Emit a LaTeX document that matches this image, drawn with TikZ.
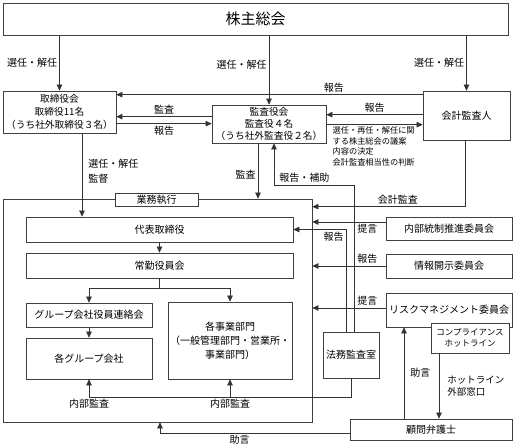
\documentclass[tikz,border=0pt]{standalone}
\usepackage{fontspec}
\setmainfont{Noto Sans CJK JP}
\usetikzlibrary{positioning, arrows.meta, calc}

\tikzset{
  box/.style={draw=black!75, line width=.7pt, align=center, inner sep=1pt,
    font=\fontsize{10}{13}\selectfont},
  lbl/.style={font=\fontsize{10}{15}\selectfont, inner sep=2pt},
  small/.style={font=\fontsize{8.2}{10.4}\selectfont, align=left, inner sep=2pt},
  arr/.style={draw=black!80, line width=.6pt, -{Triangle[length=6pt,width=5.5pt]}},
  line/.style={draw=black!80, line width=.6pt},
}

\begin{document}
\begin{tikzpicture}[x=1pt, y=-1pt]
    \useasboundingbox (0,0) rectangle (514,446);
      \node[
      box,
      minimum width=505,
      minimum height=32,
      font=\fontsize{15}{18}\selectfont
      ] (soukai) at (255.5,19) {株主総会};
      \node[
      box,
      minimum width=113,
      minimum height=42,
      font=\fontsize{9.7}{13}\selectfont
      ] (torishimari) at (59.5,112) {取締役会\\取締役11名\\（うち社外取締役３名）};
      \node[
      box,
      minimum width=114,
      minimum height=38,
      font=\fontsize{9.7}{12}\selectfont
      ] (kansayaku) at (269,124) {監査役会\\監査役４名\\（うち社外監査役２名）};
      \node[
      box,
      minimum width=87,
      minimum height=49
      ] (kaikei) at (466.5,115.5) {会計監査人};

      \node[box, minimum width=309, minimum height=223] (exec) at (157.5,310.5) {};
      \node[
      box,
      fill=white,
      inner sep=0pt,
      minimum width=83,
      minimum height=13
      ] (gyomu) at (156.5,199.5) {業務執行};
      \node[box, minimum width=267, minimum height=25] (daihyo) at (159.5,229.5) {代表取締役};
      \node[box, minimum width=267, minimum height=25] (jokin) at (159.5,265.5) {常勤役員会};
      \node[box, minimum width=126, minimum height=24] (renraku) at (89,315) {グループ会社役員連絡会};
      \node[box, minimum width=126, minimum height=41] (gkaisha) at (89,358.5) {各グループ会社};
      \node[
      box,
      minimum width=124,
      minimum height=77,
      font=\fontsize{10}{14}\selectfont
      ] (jigyo) at (230,340.5) {各事業部門\\（一般管理部門・営業所・\\事業部門）};
      \node[box, minimum width=56, minimum height=46] (homu) at (351,355) {法務監査室};

      \node[box, minimum width=126, minimum height=23] (naibu) at (449,228.5) {内部統制推進委員会};
      \node[box, minimum width=126, minimum height=24] (joho) at (449,266) {情報開示委員会};
      \node[box, minimum width=126, minimum height=34] (risk) at (449,310) {リスクマネジメント委員会};
      \node[
      box,
      fill=white,
      minimum width=78,
      minimum height=30,
      font=\fontsize{8.5}{11}\selectfont
      ] (hotline) at (470,338) {コンプライアンス\\ホットライン};
      \node[box, minimum width=162, minimum height=21] (komon) at (431,429.5) {顧問弁護士};

      \draw[arr] (soukai.south -| torishimari.north) -- node[lbl, left, pos=.5] {選任・解任} (torishimari.north);
      \draw[arr] (soukai.south -| kansayaku.north) -- node[lbl, left, pos=.43] {選任・解任} (kansayaku.north);
      \draw[arr] (soukai.south -| kaikei.north) -- node[lbl, left, pos=.5] {選任・解任} (kaikei.north);

      \draw[arr] ([yshift=-4pt]kaikei.north west) coordinate (r1)
        -- node[lbl, above, pos=.29] {報告} (r1 -| torishimari.east);
      \draw[arr] ([yshift=-12pt]kansayaku.north west) coordinate (r2)
        -- node[lbl, above] {監査} (r2 -| torishimari.east);
      \draw[arr] ([yshift=-33pt]torishimari.north east) coordinate (r3)
        -- node[lbl, below] {報告} (r3 -| kansayaku.west);
      \draw[arr] ([yshift=-24pt]kaikei.north west) coordinate (r4)
        -- node[lbl, above] {報告} (r4 -| kansayaku.east);
      \coordinate (r5) at ([yshift=-34pt]kaikei.north west);
      \draw[arr] (r5 -| kansayaku.east)
        node[small, anchor=north west, xshift=4pt] {選任・再任・解任に関\\する株主総会の議案\\内容の決定\\会計監査相当性の判断}
        -- (r5);

      \draw[arr] ([xshift=22.5pt]torishimari.south) coordinate (d1)
        -- node[lbl, right, align=left, pos=.45, xshift=4pt] {選任・解任\\監督} (d1 |- daihyo.north);
      \draw[arr] ([xshift=-11pt]kansayaku.south) coordinate (d2)
        -- node[lbl, left, pos=.57] {監査} (d2 |- exec.north);

      \coordinate (hojo) at (274,185);
      \draw[arr] ([xshift=3pt]homu.north) |- (hojo) node[lbl, above right, xshift=3pt] {報告・補助}
        -- (hojo |- kansayaku.south);
      \draw[arr] ([xshift=-5pt]homu.north) |- node[lbl, below left, pos=.5] {報告} (daihyo.east);
      \draw[arr] ([xshift=-1.5pt]kaikei.south) |- node[lbl, above, pos=.72] {会計監査} ([yshift=-8pt]exec.north east);

      \draw[arr] ([yshift=6.5pt]naibu.west) coordinate (c1) -- node[lbl, below, pos=.25] {提言} (c1 -| exec.east);
      \draw[arr] (joho.west) -- node[lbl, above, pos=.25] {報告} (joho.west -| exec.east);
      \draw[arr] ([yshift=2pt]risk.west) coordinate (c3) -- node[lbl, above, pos=.25] {提言} (c3 -| exec.east);

      \coordinate (audit) at (0,397);
      \draw[arr] (homu.south) |- (gkaisha.south |- audit) node[lbl, below] {内部監査} -- (gkaisha.south);
      \draw[arr] (jigyo.south |- audit) node[lbl, below] {内部監査} -- (jigyo.south);

      \draw[arr] ([yshift=-3.5pt]komon.west) -| node[lbl, below, pos=.29] {助言} ([xshift=2.5pt]exec.south);
      \draw[arr] ([xshift=-27pt]komon.north) coordinate (a1)
        -- node[lbl, right, xshift=4pt] {助言} (a1 |- risk.south);
      \draw[arr] ([xshift=-31pt]hotline.south) coordinate (a2)
        -- node[lbl, right, align=left, xshift=6pt, font=\fontsize{9.5}{12}\selectfont] {ホットライン\\外部窓口} (a2 |- komon.north);

      \draw[arr] (daihyo) -- (jokin);
      \draw[line] (jokin.south) -- ([yshift=-10pt]jokin.south) coordinate (sp);
      \draw[arr] (sp) -| (renraku.north);
      \draw[arr] (sp) -| (jigyo.north);
      \draw[arr] (renraku) -- (gkaisha);
    \end{tikzpicture}
\end{document}
